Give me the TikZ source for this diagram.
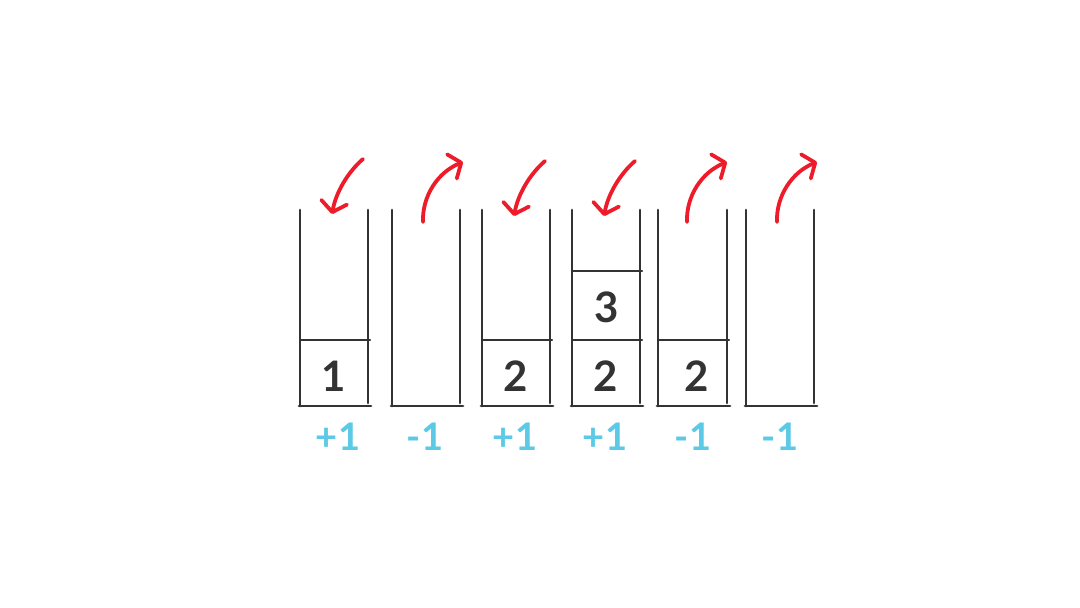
\documentclass[tikz,border=0pt]{standalone}
\usepackage{fontspec}
\setmainfont{Lato}
\usetikzlibrary{arrows.meta}
\definecolor{ink}{HTML}{333333}
\definecolor{redink}{HTML}{EE1C2A}
\definecolor{blueink}{HTML}{5CC9E6}
\tikzset{
  wall/.style={draw=ink, line width=2.8pt, line cap=round},
  divider/.style={draw=ink, line width=2.3pt, line cap=round},
  flow/.style={draw=redink, line width=3.8pt, line cap=round,
    -{Straight Barb[length=10pt, width=26pt, line width=3.8pt, round]}},
  val/.style={text=ink, font=\fontsize{42}{42}\selectfont\bfseries, inner sep=0pt},
  delta/.style={text=blueink, font=\fontsize{38}{38}\selectfont\bfseries, inner sep=0pt},
}
\begin{document}
\begin{tikzpicture}[x=1pt, y=-1pt]
\fill[white] (0,0) rectangle (1080,608);
\useasboundingbox (0,0) rectangle (1080,608);
% stacks: left, right
\foreach \L/\R in {300/368, 392/460, 482/550, 572/640, 658/727, 746/814}{
  \draw[wall] (\L,210) -- (\L,406);
  \draw[wall] (\R,210) -- (\R,403);
  \draw[wall] (\L-1,406) -- (\R+3,406);
}
% dividers
\draw[divider] (300,340) -- (370,340);
\draw[divider] (482,340) -- (552,340);
\draw[divider] (572,340) -- (642,340);
\draw[divider] (572,271) -- (642,271);
\draw[divider] (658,340) -- (729,340);
% values
\node[val] (v1) at (334,376) {1};
\node[val] (v3) at (516,376) {2};
\node[val] (v4a) at (606,376) {2};
\node[val] (v4b) at (607,307) {3};
\node[val] (v5) at (697,376) {2};
% deltas
\node[delta] (d1) at (338,437) {+1};
\node[delta] (d2) at (425,437) {-1};
\node[delta] (d3) at (515,437) {+1};
\node[delta] (d4) at (605,437) {+1};
\node[delta] (d5) at (693,437) {-1};
\node[delta] (d6) at (780,437) {-1};
% arrows
\coordinate (a1s) at (363,159); \coordinate (a1e) at (332,214);
\coordinate (a2s) at (423,222); \coordinate (a2e) at (463,162);
\coordinate (a3s) at (545,161); \coordinate (a3e) at (514,216);
\coordinate (a4s) at (635,161); \coordinate (a4e) at (604,216);
\coordinate (a5s) at (687,222); \coordinate (a5e) at (727,162);
\coordinate (a6s) at (777,222); \coordinate (a6e) at (817,162);
\draw[flow] (a1s) .. controls (348,172) and (336,192) .. (a1e);
\draw[flow] (a2s) .. controls (422,196) and (438,172) .. (a2e);
\draw[flow] (a3s) .. controls (530,174) and (518,194) .. (a3e);
\draw[flow] (a4s) .. controls (620,174) and (608,194) .. (a4e);
\draw[flow] (a5s) .. controls (686,196) and (702,172) .. (a5e);
\draw[flow] (a6s) .. controls (776,196) and (792,172) .. (a6e);
\end{tikzpicture}
\end{document}
